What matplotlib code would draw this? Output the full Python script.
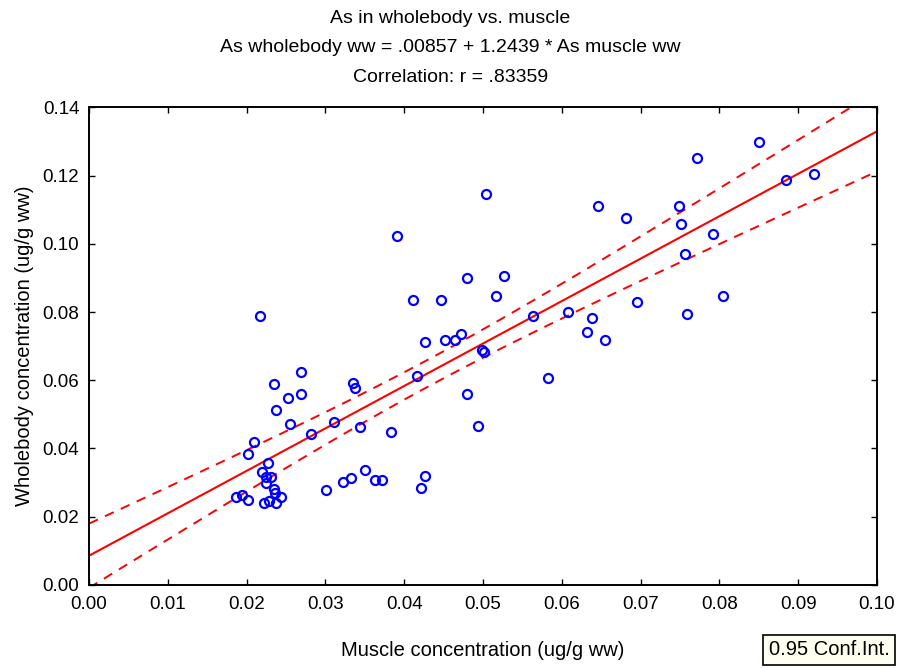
import numpy as np
import matplotlib
matplotlib.use("Agg")
import matplotlib.pyplot as plt

plt.rcParams["font.family"] = ["Liberation Sans", "DejaVu Sans"]

# As concentration (ug/g ww)
muscle = [
    0.02168, 0.02684, 0.02352, 0.02528, 0.02684, 0.02378, 0.03344, 0.03370,
    0.02556, 0.03112, 0.02811, 0.03444, 0.02094, 0.02018, 0.02276, 0.02199,
    0.02247, 0.02305, 0.02250, 0.02349, 0.02362, 0.02432, 0.01865, 0.01941,
    0.02018, 0.02222, 0.02282, 0.02379, 0.03013, 0.03217, 0.03321, 0.03497,
    0.03625, 0.03714, 0.03908, 0.04801, 0.05264, 0.04116, 0.04473, 0.05162,
    0.05628, 0.04265, 0.04520, 0.04648, 0.04724, 0.04983, 0.05009, 0.04163,
    0.04801, 0.03832, 0.04932, 0.04265, 0.04218, 0.07716, 0.05034, 0.06463,
    0.07487, 0.06820, 0.07515, 0.07920, 0.07564, 0.06948, 0.08048, 0.07589,
    0.06080, 0.06387, 0.06314, 0.06543, 0.05829, 0.08508, 0.08844, 0.09202,
]
wholebody = [
    0.07893, 0.06251, 0.05900, 0.05489, 0.05607, 0.05138, 0.05912, 0.05783,
    0.04727, 0.04786, 0.04434, 0.04616, 0.04197, 0.03848, 0.03567, 0.03321,
    0.03151, 0.03151, 0.02981, 0.02814, 0.02688, 0.02564, 0.02564, 0.02647,
    0.02500, 0.02389, 0.02447, 0.02389, 0.02793, 0.03028, 0.03145, 0.03379,
    0.03086, 0.03086, 0.10238, 0.09006, 0.09065, 0.08362, 0.08362, 0.08479,
    0.07893, 0.07131, 0.07189, 0.07189, 0.07365, 0.06896, 0.06838, 0.06134,
    0.05607, 0.04493, 0.04669, 0.03203, 0.02852, 0.12523, 0.11468, 0.11117,
    0.11117, 0.10765, 0.10589, 0.10296, 0.09710, 0.08303, 0.08479, 0.07951,
    0.08010, 0.07834, 0.07424, 0.07189, 0.06076, 0.12992, 0.11878, 0.12054,
]

intercept = 0.00857
slope = 1.2439

x = np.array(muscle)
y = np.array(wholebody)
n = len(x)

# regression line and 95% confidence band of the mean
xs = np.linspace(0, 0.10, 200)
fit = intercept + slope * xs
resid = y - (intercept + slope * x)
s = np.sqrt(np.sum(resid ** 2) / (n - 2))
sxx = np.sum((x - x.mean()) ** 2)
half = 1.994 * s * np.sqrt(1 / n + (xs - x.mean()) ** 2 / sxx)

fig = plt.figure(figsize=(9.01, 6.68), dpi=100)
ax = fig.add_axes([0.0988, 0.1243, 0.8746, 0.7151])

ax.plot(xs, fit, color="#ff0000", lw=1.5)
ax.plot(xs, fit + half, color="#ff0000", lw=1.4, dashes=(5, 4))
ax.plot(xs, fit - half, color="#ff0000", lw=1.4, dashes=(5, 4))
ax.plot(x, y, "o", mfc="none", mec="#0000ff", ms=6.5, mew=1.6)

ax.set_xlim(0, 0.10)
ax.set_ylim(0, 0.14)
ax.set_xticks(np.arange(0, 0.1001, 0.01))
ax.set_yticks(np.arange(0, 0.1401, 0.02))
ax.xaxis.set_major_formatter(plt.FormatStrFormatter("%.2f"))
ax.yaxis.set_major_formatter(plt.FormatStrFormatter("%.2f"))
ax.tick_params(direction="in", top=True, right=True, length=4, width=1,
               labelsize=13.5)
ax.tick_params(axis="x", pad=8)
ax.tick_params(axis="y", pad=7)
for sp in ax.spines.values():
    sp.set_linewidth(1.4)

ax.set_xlabel("Muscle concentration (ug/g ww)", fontsize=14.5, labelpad=20)
ax.set_ylabel("Wholebody concentration (ug/g ww)", fontsize=14.5, labelpad=6)

fig.text(0.5, 0.972, "As in wholebody vs. muscle", ha="center", va="center", fontsize=14)
fig.text(0.5, 0.929, "As wholebody ww = .00857 + 1.2439 * As muscle ww",
         ha="center", va="center", fontsize=14)
fig.text(0.5, 0.884, "Correlation: r = .83359", ha="center", va="center", fontsize=14)

fig.text(0.853, 0.027, "0.95 Conf.Int.", ha="left", va="center", fontsize=14.5,
         bbox=dict(boxstyle="square,pad=0.28", fc="#fffff0", ec="black", lw=1.2))

fig.savefig("out.png", dpi=100)
